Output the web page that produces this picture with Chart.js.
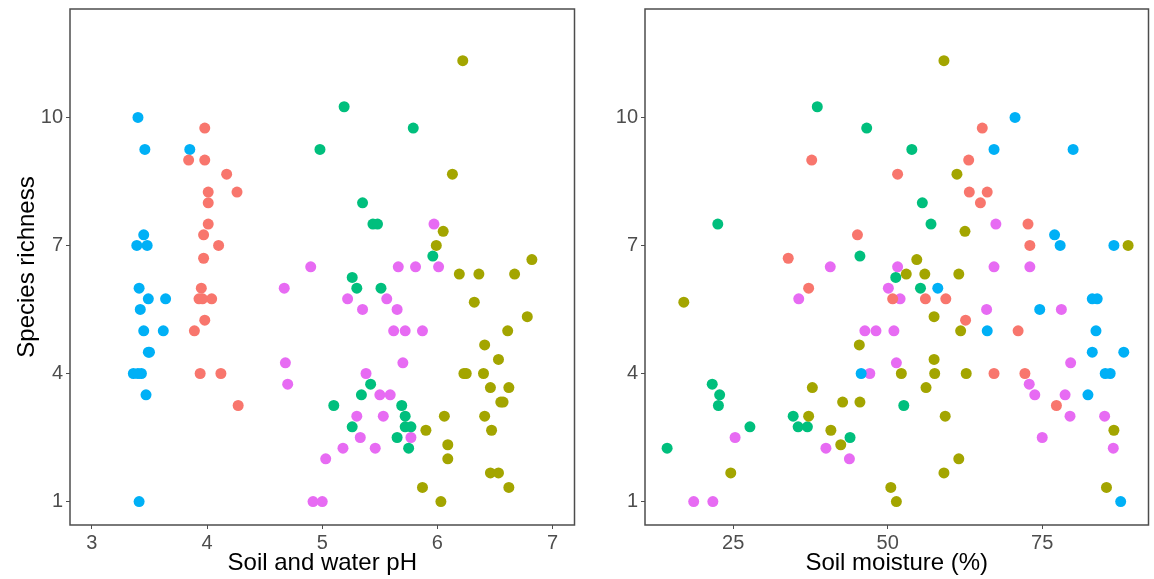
<!DOCTYPE html>
<html>
<head>
<meta charset="utf-8">
<script src="https://cdn.jsdelivr.net/npm/chart.js@4.4.0/dist/chart.umd.min.js"></script>
<style>
  body { margin: 0; background: #fff; }
  canvas { position: absolute; top: 0; }
</style>
</head>
<body>
<canvas id="phChart" width="580" height="579" style="left:0"></canvas>
<canvas id="moistureChart" width="574" height="579" style="left:580px"></canvas>
<script>
const groupColors = ['#F8766D', '#A3A500', '#00BF7D', '#00B0F6', '#E76BF3'];
const richnessTicks = [1, 4, 7, 10];
const phTicks = [3, 4, 5, 6, 7];
const moistureTicks = [25, 50, 75];

// [pH, species richness]
const redPh = [[3.98, 9.75], [3.84, 9], [3.98, 9], [4.17, 8.67], [4.01, 8.25], [4.26, 8.25], [4.01, 8], [4.01, 7.5],
  [3.97, 7.25], [4.10, 7], [3.97, 6.7], [3.95, 6], [3.93, 5.75], [4.04, 5.75], [3.96, 5.75], [3.98, 5.25], [3.89, 5],
  [3.94, 4], [4.12, 4], [4.27, 3.25]];
const olivePh = [[6.22, 11.33], [6.13, 8.67], [6.05, 7.33], [5.99, 7], [6.82, 6.67], [6.19, 6.33], [6.36, 6.33], [6.67, 6.33],
  [6.32, 5.67], [6.78, 5.33], [6.61, 5], [6.41, 4.67], [6.53, 4.33], [6.23, 4], [6.25, 4], [6.40, 4], [6.46, 3.67], [6.62, 3.67],
  [6.55, 3.33], [6.57, 3.33], [6.06, 3], [6.41, 3], [5.90, 2.67], [6.47, 2.67], [6.09, 2.33], [6.09, 2], [6.46, 1.67],
  [6.53, 1.67], [5.87, 1.33], [6.62, 1.33], [6.03, 1]];
const greenPh = [[4.98, 9.25], [5.19, 10.25], [5.79, 9.75], [5.35, 8], [5.44, 7.5], [5.48, 7.5], [5.96, 6.75], [5.26, 6.25],
  [5.30, 6], [5.51, 6], [5.42, 3.75], [5.34, 3.5], [5.10, 3.25], [5.69, 3.25], [5.72, 3], [5.26, 2.75], [5.72, 2.75],
  [5.77, 2.75], [5.65, 2.5], [5.75, 2.25]];
const bluePh = [[3.40, 10], [3.46, 9.25], [3.85, 9.25], [3.45, 7.25], [3.39, 7], [3.48, 7], [3.41, 6], [3.49, 5.75],
  [3.64, 5.75], [3.42, 5.5], [3.45, 5], [3.62, 5], [3.50, 4.5], [3.49, 4.5], [3.36, 4], [3.40, 4], [3.43, 4], [3.47, 3.5],
  [3.41, 1]];
const pinkPh = [[5.97, 7.5], [5.66, 6.5], [5.81, 6.5], [6.01, 6.5], [4.90, 6.5], [4.67, 6], [5.22, 5.75], [5.56, 5.75],
  [5.35, 5.5], [5.65, 5.5], [5.62, 5], [5.72, 5], [5.87, 5], [4.68, 4.25], [5.70, 4.25], [5.38, 4], [4.70, 3.75], [5.50, 3.5],
  [5.59, 3.5], [5.30, 3], [5.53, 3], [5.33, 2.5], [5.77, 2.5], [5.18, 2.25], [5.46, 2.25], [5.03, 2], [4.92, 1], [5.00, 1]];

// [soil moisture %, species richness]
const redMoist = [[37.7, 9], [45.1, 7.25], [33.9, 6.7], [65.3, 9.75], [63.1, 9], [51.6, 8.67], [63.2, 8.25], [66.1, 8.25],
  [65.0, 8], [72.7, 7.5], [73.0, 7], [37.2, 6], [50.8, 5.75], [56.1, 5.75], [59.4, 5.75], [62.6, 5.25], [71.1, 5], [67.2, 4],
  [72.2, 4], [77.3, 3.25]];
const oliveMoist = [[59.1, 11.33], [61.2, 8.67], [62.5, 7.33], [88.9, 7], [54.7, 6.67], [53.0, 6.33], [56.0, 6.33],
  [61.5, 6.33], [17.0, 5.67], [57.5, 5.33], [61.8, 5], [45.4, 4.67], [57.5, 4.33], [52.2, 4], [57.6, 4], [62.7, 4],
  [37.8, 3.67], [56.2, 3.67], [42.7, 3.33], [45.5, 3.33], [37.2, 3], [59.3, 3], [40.8, 2.67], [86.6, 2.67], [42.4, 2.33],
  [61.5, 2], [24.6, 1.67], [59.1, 1.67], [50.5, 1.33], [85.4, 1.33], [51.4, 1]];
const greenMoist = [[38.6, 10.25], [46.6, 9.75], [53.9, 9.25], [55.6, 8], [22.5, 7.5], [57.0, 7.5], [45.5, 6.75], [51.3, 6.25],
  [55.3, 6], [21.6, 3.75], [22.8, 3.5], [22.6, 3.25], [52.6, 3.25], [34.7, 3], [27.7, 2.75], [35.5, 2.75], [37.0, 2.75],
  [43.9, 2.5], [14.3, 2.25]];
const blueMoist = [[70.6, 10], [67.2, 9.25], [80.0, 9.25], [77.0, 7.25], [77.9, 7], [86.6, 7], [58.1, 6], [83.1, 5.75],
  [83.9, 5.75], [74.6, 5.5], [66.1, 5], [83.7, 5], [83.1, 4.5], [88.2, 4.5], [45.7, 4], [85.2, 4], [86.0, 4], [82.4, 3.5],
  [87.7, 1]];
const pinkMoist = [[67.5, 7.5], [40.7, 6.5], [51.6, 6.5], [67.2, 6.5], [73.0, 6.5], [50.1, 6], [35.6, 5.75], [52.0, 5.75],
  [66.0, 5.5], [78.1, 5.5], [46.3, 5], [48.1, 5], [51.0, 5], [51.4, 4.25], [79.6, 4.25], [47.1, 4], [72.9, 3.75], [73.8, 3.5],
  [78.7, 3.5], [79.5, 3], [85.1, 3], [25.3, 2.5], [75.0, 2.5], [40.0, 2.25], [86.5, 2.25], [43.8, 2], [18.6, 1], [21.7, 1]];

const fontFamily = '"Liberation Sans", Arial, sans-serif';

// box around the plotting area
const panelBorder = {
  id: 'panelBorder',
  afterDatasetsDraw(chart) {
    const { ctx, chartArea: a } = chart;
    ctx.save();
    ctx.strokeStyle = '#4d4d4d';
    ctx.lineWidth = 1.5;
    ctx.strokeRect(a.left, a.top, a.right - a.left, a.bottom - a.top);
    ctx.restore();
  }
};

function axisGrid() {
  return { drawOnChartArea: false, drawTicks: true, tickLength: 4, color: '#4d4d4d', lineWidth: 1 };
}

function makePanel(id, series, xTicks, xMin, xMax, xTitle, yWidth, yTitle, padRight) {
  return new Chart(document.getElementById(id), {
    type: 'scatter',
    data: {
      datasets: series.map((pts, i) => ({
        data: pts.map(p => ({ x: p[0], y: p[1] })),
        backgroundColor: groupColors[i],
        pointRadius: 5.5,
        pointHoverRadius: 5.5,
        pointBorderWidth: 0
      }))
    },
    options: {
      responsive: false,
      animation: false,
      layout: { padding: { top: 9, right: padRight, left: 0, bottom: 0 } },
      plugins: { legend: { display: false }, tooltip: { enabled: false } },
      scales: {
        x: {
          type: 'linear',
          min: xMin,
          max: xMax,
          afterBuildTicks: s => { s.ticks = xTicks.map(v => ({ value: v })); },
          afterFit: s => { s.height = 54; s.paddingLeft = 0; s.paddingRight = 0; },
          grid: axisGrid(),
          border: { display: false },
          ticks: { color: '#4d4d4d', font: { family: fontFamily, size: 20 }, padding: 2 },
          title: { display: true, text: xTitle, color: '#000', font: { family: fontFamily, size: 24 }, padding: { top: 0, bottom: 1 } }
        },
        y: {
          type: 'linear',
          min: 0.45,
          max: 12.54,
          afterBuildTicks: s => { s.ticks = richnessTicks.map(v => ({ value: v })); },
          afterFit: s => { s.width = yWidth; s.paddingTop = 0; s.paddingBottom = 0; },
          grid: axisGrid(),
          border: { display: false },
          ticks: { color: '#4d4d4d', font: { family: fontFamily, size: 20 }, padding: 3 },
          title: { display: !!yTitle, text: yTitle, color: '#000', font: { family: fontFamily, size: 24 }, padding: { top: 13, bottom: 0 } }
        }
      }
    },
    plugins: [panelBorder]
  });
}

makePanel('phChart', [redPh, olivePh, greenPh, bluePh, pinkPh], phTicks, 2.81, 7.19,
  'Soil and water pH', 70, 'Species richness', 5);
makePanel('moistureChart', [redMoist, oliveMoist, greenMoist, blueMoist, pinkMoist], moistureTicks, 10.72, 92.2,
  'Soil moisture (%)', 65, '', 4);
</script>
</body>
</html>
